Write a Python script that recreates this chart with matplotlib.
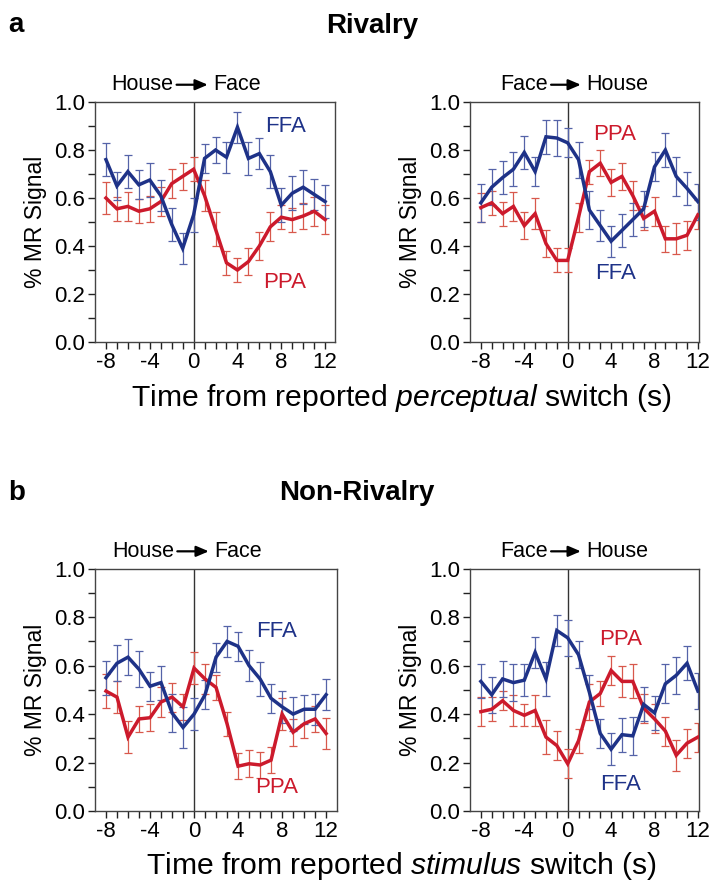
import numpy as np
import matplotlib
matplotlib.use("Agg")
import matplotlib.pyplot as plt

plt.rcParams['font.family'] = ['Liberation Sans', 'DejaVu Sans']
plt.rcParams['axes.unicode_minus'] = False
plt.rcParams['mathtext.fontset'] = 'custom'
plt.rcParams['mathtext.rm'] = 'Liberation Sans'
plt.rcParams['mathtext.it'] = 'Liberation Sans:italic'

t = np.arange(-8, 13)

# a: Rivalry, House -> Face
riv_hf_ffa = [0.76, 0.65, 0.71, 0.655, 0.675, 0.61, 0.49, 0.39, 0.53, 0.765, 0.80,
              0.77, 0.895, 0.765, 0.785, 0.71, 0.57, 0.62, 0.645, 0.615, 0.585]
riv_hf_ffa_err = [0.07, 0.06, 0.07, 0.06, 0.07, 0.065, 0.07, 0.065, 0.07, 0.06, 0.055,
                  0.065, 0.065, 0.07, 0.065, 0.07, 0.07, 0.07, 0.07, 0.065, 0.07]
riv_hf_ppa = [0.60, 0.555, 0.565, 0.545, 0.555, 0.585, 0.66, 0.69, 0.72, 0.61, 0.47,
              0.33, 0.30, 0.335, 0.40, 0.48, 0.52, 0.51, 0.525, 0.545, 0.51]
riv_hf_ppa_err = [0.065, 0.05, 0.06, 0.05, 0.055, 0.06, 0.06, 0.055, 0.05, 0.065, 0.07,
                  0.05, 0.05, 0.055, 0.06, 0.06, 0.05, 0.05, 0.055, 0.06, 0.06]

# a: Rivalry, Face -> House
riv_fh_ffa = [0.58, 0.645, 0.685, 0.72, 0.79, 0.71, 0.855, 0.85, 0.83, 0.76, 0.55,
              0.485, 0.42, 0.465, 0.51, 0.555, 0.73, 0.80, 0.69, 0.64, 0.585]
riv_fh_ffa_err = [0.08, 0.075, 0.07, 0.07, 0.07, 0.06, 0.07, 0.075, 0.06, 0.075, 0.08,
                  0.065, 0.065, 0.07, 0.07, 0.075, 0.06, 0.07, 0.08, 0.07, 0.075]
riv_fh_ppa = [0.56, 0.58, 0.535, 0.565, 0.485, 0.535, 0.41, 0.34, 0.34, 0.52, 0.71,
              0.745, 0.665, 0.69, 0.61, 0.515, 0.545, 0.43, 0.43, 0.445, 0.53]
riv_fh_ppa_err = [0.06, 0.05, 0.05, 0.06, 0.055, 0.065, 0.055, 0.05, 0.05, 0.06, 0.05,
                  0.055, 0.055, 0.055, 0.06, 0.05, 0.06, 0.055, 0.065, 0.06, 0.06]

# b: Non-Rivalry, House -> Face
non_hf_ffa = [0.55, 0.61, 0.635, 0.585, 0.515, 0.53, 0.405, 0.345, 0.40, 0.48, 0.635,
              0.70, 0.68, 0.60, 0.545, 0.465, 0.43, 0.40, 0.42, 0.42, 0.48]
non_hf_ffa_err = [0.07, 0.075, 0.075, 0.075, 0.06, 0.07, 0.08, 0.085, 0.065, 0.06, 0.06,
                  0.065, 0.06, 0.065, 0.07, 0.06, 0.065, 0.07, 0.06, 0.065, 0.065]
non_hf_ppa = [0.495, 0.47, 0.305, 0.38, 0.385, 0.45, 0.47, 0.43, 0.59, 0.545, 0.51,
              0.36, 0.185, 0.195, 0.19, 0.21, 0.40, 0.325, 0.36, 0.38, 0.32]
non_hf_ppa_err = [0.07, 0.065, 0.065, 0.055, 0.055, 0.06, 0.06, 0.055, 0.065, 0.06, 0.05,
                  0.05, 0.055, 0.055, 0.055, 0.055, 0.065, 0.055, 0.06, 0.055, 0.065]

# b: Non-Rivalry, Face -> House
non_fh_ffa = [0.535, 0.48, 0.545, 0.53, 0.54, 0.655, 0.545, 0.745, 0.715, 0.645, 0.49,
              0.32, 0.255, 0.315, 0.31, 0.44, 0.405, 0.525, 0.56, 0.61, 0.495]
non_fh_ffa_err = [0.07, 0.075, 0.075, 0.075, 0.065, 0.065, 0.07, 0.065, 0.075, 0.055, 0.07,
                  0.06, 0.065, 0.07, 0.08, 0.07, 0.07, 0.08, 0.075, 0.07, 0.075]
non_fh_ppa = [0.41, 0.42, 0.455, 0.415, 0.395, 0.415, 0.305, 0.27, 0.195, 0.29, 0.45,
              0.485, 0.58, 0.535, 0.535, 0.425, 0.38, 0.33, 0.23, 0.28, 0.305]
non_fh_ppa_err = [0.06, 0.05, 0.04, 0.065, 0.045, 0.065, 0.07, 0.06, 0.06, 0.05, 0.075,
                  0.05, 0.06, 0.065, 0.07, 0.06, 0.06, 0.06, 0.065, 0.06, 0.06]

BLUE = '#1e3288'
BLUE_ERR = '#5563a8'
RED = '#cc1a2c'
RED_ERR = '#d8584c'
FS = 16

fig = plt.figure(figsize=(7.1, 8.84), dpi=100)


def panel(rect, ffa, ffa_err, ppa, ppa_err, xmax, words, lab_ffa, lab_ppa, arrow_c):
    ax = fig.add_axes(rect)
    ax.errorbar(t, ppa, yerr=ppa_err, fmt='none', ecolor=RED_ERR, elinewidth=0.9,
                capsize=3, capthick=0.9, zorder=2)
    ax.errorbar(t, ffa, yerr=ffa_err, fmt='none', ecolor=BLUE_ERR, elinewidth=0.9,
                capsize=3, capthick=0.9, zorder=2)
    ax.plot(t, ppa, color=RED, lw=2.5, zorder=3, solid_joinstyle='miter')
    ax.plot(t, ffa, color=BLUE, lw=2.5, zorder=4, solid_joinstyle='miter')
    ax.axvline(0, color='#333333', lw=1.0, zorder=1)
    ax.set_xlim(-9, xmax)
    ax.set_ylim(0, 1.0)
    ax.set_xticks([-8, -4, 0, 4, 8, 12])
    ax.set_xticks(t, minor=True)
    ax.set_yticks(np.arange(0, 1.01, 0.2))
    ax.set_yticks(np.arange(0.1, 1.0, 0.2), minor=True)
    ax.set_yticklabels(['%.1f' % v for v in np.arange(0, 1.01, 0.2)])
    ax.tick_params(which='both', direction='out', length=5, width=1.0,
                   labelsize=FS, colors='#222222', pad=2)
    ax.tick_params(axis='both', which='both', labelcolor='black')
    for s in ax.spines.values():
        s.set_linewidth(1.0)
        s.set_color('#444444')
    ax.set_ylabel('% MR Signal', fontsize=16.5, labelpad=5)
    ax.text(lab_ffa[0], lab_ffa[1], 'FFA', color=BLUE, fontsize=16, ha='center', va='center')
    ax.text(lab_ppa[0], lab_ppa[1], 'PPA', color=RED, fontsize=16, ha='center', va='center')
    # switch annotation above the panel
    yy = 1.072
    ax.text(arrow_c - 0.08, yy, words[0], transform=ax.transAxes, fontsize=15.5,
            ha='right', va='center')
    ax.text(arrow_c + 0.088, yy, words[1], transform=ax.transAxes, fontsize=15.5,
            ha='left', va='center')
    ax.annotate('', xy=(arrow_c + 0.064, yy), xytext=(arrow_c - 0.066, yy),
                xycoords='axes fraction', textcoords='axes fraction',
                arrowprops=dict(arrowstyle='-|>,head_length=0.75,head_width=0.32',
                                color='black', lw=1.6, shrinkA=0, shrinkB=0))
    return ax


panel([0.1338, 0.6131, 0.338, 0.2715], riv_hf_ffa, riv_hf_ffa_err, riv_hf_ppa, riv_hf_ppa_err,
      12.9, ('House', 'Face'), (8.35, 0.90), (8.35, 0.25), 0.406)
panel([0.662, 0.6131, 0.3225, 0.2715], riv_fh_ffa, riv_fh_ffa_err, riv_fh_ppa, riv_fh_ppa_err,
      12.1, ('Face', 'House'), (4.37, 0.285), (4.37, 0.865), 0.42)
panel([0.1338, 0.0826, 0.341, 0.274], non_hf_ffa, non_hf_ffa_err, non_hf_ppa, non_hf_ppa_err,
      13.0, ('House', 'Face'), (7.5, 0.742), (7.5, 0.098), 0.406)
panel([0.662, 0.0826, 0.3225, 0.274], non_fh_ffa, non_fh_ffa_err, non_fh_ppa, non_fh_ppa_err,
      12.1, ('Face', 'House'), (4.9, 0.108), (4.9, 0.71), 0.42)

fig.text(8 / 710, 1 - 25 / 884, 'a', fontsize=20, fontweight='bold', va='center', ha='left')
fig.text(8 / 710, 1 - 493 / 884, 'b', fontsize=20, fontweight='bold', va='center', ha='left')
fig.text(372 / 710, 1 - 26 / 884, 'Rivalry', fontsize=20, fontweight='bold', ha='center', va='center')
fig.text(357 / 710, 1 - 493 / 884, 'Non-Rivalry', fontsize=20, fontweight='bold', ha='center', va='center')

fig.text(401 / 710, 1 - 398 / 884, 'Time from reported $\\it{perceptual}$ switch (s)',
         fontsize=21.7, ha='center', va='center')
fig.text(401 / 710, 1 - 866 / 884, 'Time from reported $\\it{stimulus}$ switch (s)',
         fontsize=21.7, ha='center', va='center')

fig.savefig('out.png', dpi=100)
